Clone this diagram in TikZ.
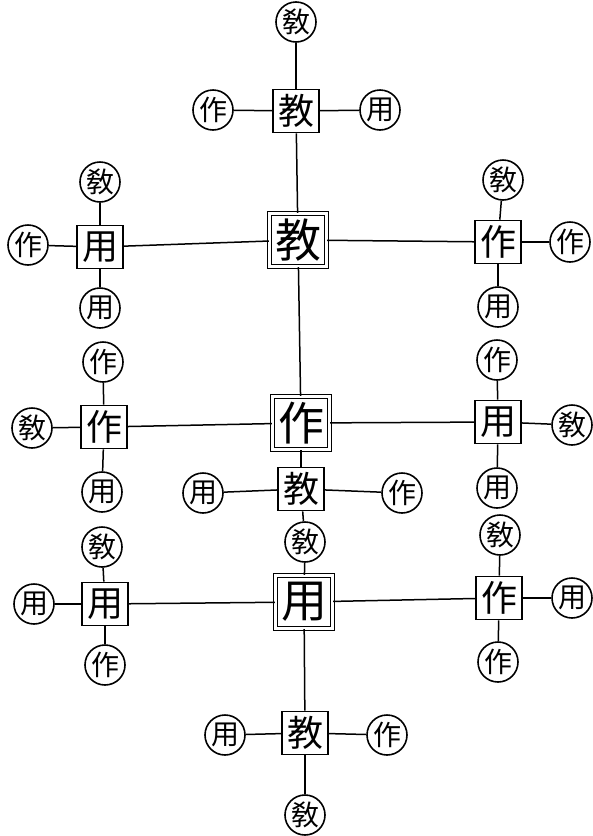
\documentclass[tikz,border=0pt]{standalone}
\usepackage{fontspec}
\newfontfamily\cjk{Noto Sans CJK SC}
\begin{document}
\begin{tikzpicture}[x=1pt,y=-1pt,
  ring/.style={circle,draw,line width=1.6pt,minimum size=40pt,inner sep=0pt,
    font=\cjk\fontsize{28}{28}\selectfont},
  sbox/.style={rectangle,draw,line width=1.6pt,minimum width=46pt,minimum height=43pt,inner sep=0pt,
    font=\cjk\fontsize{36}{36}\selectfont},
  mbox/.style={rectangle,draw,line width=1.4pt,double=white,double distance=2.5pt,
    minimum width=57pt,minimum height=53pt,inner sep=0pt,
    font=\cjk\fontsize{46}{46}\selectfont},
  link/.style={line width=1.5pt}]
\useasboundingbox (0,0) rectangle (593,836);
% centre column
\node[ring] (tc) at (296,22) {敎};
\node[sbox] (tb) at (296,111) {教};
\node[ring] (tl) at (213,110) {作};
\node[ring] (tr) at (380,110) {用};
\node[mbox] (m1) at (298,240) {教};
\node[mbox] (m2) at (301,423) {作};
\node[sbox] (cb) at (301,489) {教};
\node[ring] (cl) at (203,493) {用};
\node[ring] (cr) at (402,493) {作};
\node[ring] (cd) at (305,542) {敎};
\node[mbox] (m3) at (304,602) {用};
\node[sbox] (bb) at (305,733) {教};
\node[ring] (bl) at (225,735) {用};
\node[ring] (br) at (387,735) {作};
\node[ring] (bd) at (305,815) {敎};
% left column
\node[sbox] (l1) at (100,247) {用};
\node[ring] (l1u) at (100,182) {敎};
\node[ring] (l1l) at (28,245) {作};
\node[ring] (l1d) at (100,308) {用};
\node[sbox] (l2) at (104,427) {作};
\node[ring] (l2u) at (103,362) {作};
\node[ring] (l2l) at (32,428) {敎};
\node[ring] (l2d) at (102,492) {用};
\node[sbox] (l3) at (105,604) {用};
\node[ring] (l3u) at (102,547) {敎};
\node[ring] (l3l) at (34,604) {用};
\node[ring] (l3d) at (105,665) {作};
% right column
\node[sbox] (r1) at (498,242) {作};
\node[ring] (r1u) at (503,180) {敎};
\node[ring] (r1r) at (570,242) {作};
\node[ring] (r1d) at (498,307) {用};
\node[sbox] (r2) at (498,422) {用};
\node[ring] (r2u) at (497,360) {作};
\node[ring] (r2r) at (572,425) {敎};
\node[ring] (r2d) at (497,488) {用};
\node[sbox] (r3) at (499,598) {作};
\node[ring] (r3u) at (500,535) {敎};
\node[ring] (r3r) at (572,598) {用};
\node[ring] (r3d) at (498,662) {作};
% connectors
\draw[link] (tc) -- (tb);
\draw[link] (tl) -- (tb);
\draw[link] (tb) -- (tr);
\draw[link] (tb) -- (m1);
\draw[link] (m1) -- (m2);
\draw[link] (m2) -- (cb);
\draw[link] (cl) -- (cb);
\draw[link] (cb) -- (cr);
\draw[link] (cb) -- (cd);
\draw[link] (cd) -- (m3);
\draw[link] (m3) -- (bb);
\draw[link] (bl) -- (bb);
\draw[link] (bb) -- (br);
\draw[link] (bb) -- (bd);
\draw[link] (l1) -- (m1);
\draw[link] (m1) -- (r1);
\draw[link] (l2) -- (m2);
\draw[link] (m2) -- (r2);
\draw[link] (l3) -- (m3);
\draw[link] (m3) -- (r3);
\foreach \b/\u/\s/\d in {l1/l1u/l1l/l1d,l2/l2u/l2l/l2d,l3/l3u/l3l/l3d,r1/r1u/r1r/r1d,r2/r2u/r2r/r2d,r3/r3u/r3r/r3d}{
  \draw[link] (\u) -- (\b);
  \draw[link] (\s) -- (\b);
  \draw[link] (\b) -- (\d);
}
\end{tikzpicture}
\end{document}
